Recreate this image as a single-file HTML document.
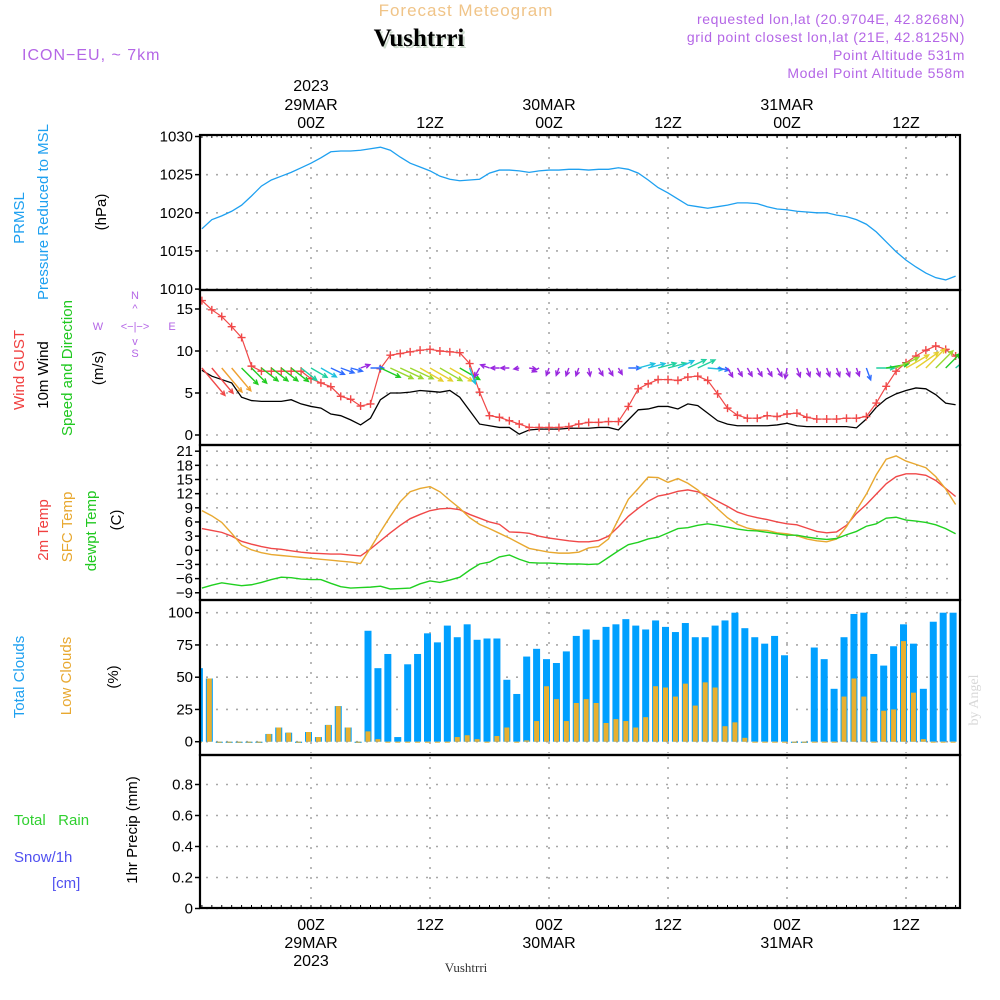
<!DOCTYPE html>
<html><head><meta charset="utf-8"><style>
html,body{margin:0;padding:0;background:#fff;}
svg{display:block;font-family:"Liberation Sans",sans-serif;}
</style></head><body>
<svg id="chart" width="1000" height="1000" viewBox="0 0 1000 1000">
<text x="466" y="16" font-size="17" fill="#f0c488" text-anchor="middle" letter-spacing="1">Forecast Meteogram</text>
<text x="421" y="48" font-size="25" font-weight="bold" font-family="Liberation Serif, serif" fill="#cfdccf" text-anchor="middle">Vushtrri</text>
<text x="419" y="46" font-size="25" font-weight="bold" font-family="Liberation Serif, serif" fill="#000" text-anchor="middle">Vushtrri</text>
<text x="22" y="60" font-size="16" fill="#b466e6" letter-spacing="1">ICON−EU, ~ 7km</text>
<g font-size="14" fill="#b466e6" text-anchor="end" letter-spacing="0.6">
<text x="965" y="24">requested lon,lat (20.9704E, 42.8268N)</text>
<text x="965" y="42">grid point closest lon,lat (21E, 42.8125N)</text>
<text x="965" y="60">Point Altitude 531m</text>
<text x="965" y="78">Model Point Altitude 558m</text>
</g>
<text x="978" y="700" font-size="14" fill="#d8d8d8" font-family="Liberation Serif, serif" transform="rotate(-90 978 700)" text-anchor="middle">by Angel</text>
<g id="left-labels" font-size="15" text-anchor="middle">
<text transform="translate(24,218) rotate(-90)" fill="#1ea0f0">PRMSL</text>
<text transform="translate(48,212) rotate(-90)" fill="#1ea0f0">Pressure Reduced to MSL</text>
<text transform="translate(106,212) rotate(-90)" fill="#000">(hPa)</text>
<text transform="translate(24,370) rotate(-90)" fill="#f04040">Wind GUST</text>
<text transform="translate(48,375) rotate(-90)" fill="#000">10m Wind</text>
<text transform="translate(72,368) rotate(-90)" fill="#20c820">Speed and Direction</text>
<text transform="translate(103,368) rotate(-90)" fill="#000">(m/s)</text>
<text transform="translate(48,530) rotate(-90)" fill="#f04040">2m Temp</text>
<text transform="translate(72,527) rotate(-90)" fill="#e8a830">SFC Temp</text>
<text transform="translate(96,531) rotate(-90)" fill="#20c820">dewpt Temp</text>
<text transform="translate(121,520) rotate(-90)" fill="#000">(C)</text>
<text transform="translate(24,677) rotate(-90)" fill="#1ea0f0">Total Clouds</text>
<text transform="translate(71,676) rotate(-90)" fill="#e8a830">Low Clouds</text>
<text transform="translate(118,677) rotate(-90)" fill="#000">(%)</text>
<text transform="translate(137,830) rotate(-90)" fill="#000">1hr Precip (mm)</text>
</g>
<g font-size="15">
<text x="14" y="825" fill="#30d030" xml:space="preserve">Total   Rain</text>
<text x="14" y="862" fill="#5050f0">Snow/1h</text>
<text x="52" y="888" fill="#5050f0">[cm]</text>
</g>
<g font-size="11" fill="#b466e6" text-anchor="middle">
<text x="135" y="299">N</text>
<text x="135" y="312">^</text>
<text x="135" y="330">&lt;−|−&gt;</text>
<text x="98" y="330">W</text>
<text x="172" y="330">E</text>
<text x="135" y="345">v</text>
<text x="135" y="357">S</text>
</g>
</svg>
<script>
const hours = [];
for (let h = -11; h <= 65; h++) hours.push(h);
const pressure = [1017.9,1019.1,1019.6,1020.2,1021.0,1022.2,1023.5,1024.3,1024.8,1025.3,1025.9,1026.5,1027.2,1028.0,1028.1,1028.1,1028.2,1028.4,1028.6,1028.2,1027.3,1026.5,1026.0,1025.5,1024.8,1024.4,1024.2,1024.3,1024.4,1025.2,1025.6,1025.6,1025.5,1025.3,1025.5,1025.6,1025.6,1025.7,1025.7,1025.6,1025.7,1025.7,1025.9,1025.7,1025.2,1024.3,1023.3,1022.6,1021.8,1021.0,1020.8,1020.6,1020.8,1021.0,1021.3,1021.3,1021.2,1020.8,1020.5,1020.4,1020.2,1020.1,1020.0,1020.0,1019.7,1019.5,1019.1,1018.5,1017.5,1016.2,1014.9,1013.8,1012.9,1012.1,1011.5,1011.2,1011.7];
const windGust = [16.0,14.9,14.1,12.9,11.6,8.2,7.6,7.6,7.6,7.6,7.6,6.7,6.2,5.75,4.6,4.25,3.45,3.7,7.9,9.5,9.7,9.9,10.1,10.2,10.0,9.9,9.8,8.5,5.1,2.3,2.1,1.7,1.3,0.9,0.9,0.9,0.9,1.0,1.3,1.5,1.5,1.6,1.6,3.4,5.5,6.1,6.6,6.6,6.5,6.9,7.0,6.5,4.9,3.2,2.35,2.0,2.0,2.3,2.2,2.5,2.6,2.1,1.9,1.9,1.9,2.0,2.0,2.2,3.8,5.8,7.6,8.6,9.4,10.1,10.6,10.2,9.4];
const windSpeed = [7.7,7.0,6.6,6.2,4.5,4.1,4.0,4.0,4.0,4.2,3.7,3.4,3.2,2.5,2.3,1.8,1.2,2.0,4.2,5.0,5.0,5.1,5.3,5.2,5.1,5.3,4.5,2.9,1.3,1.1,0.9,0.9,0.1,0.6,0.7,0.7,0.7,0.8,0.8,0.8,0.9,0.9,0.6,1.8,3.0,3.1,3.4,3.4,3.1,3.7,3.5,2.6,1.7,1.3,1.1,1.1,1.1,1.1,1.2,1.4,1.1,1.0,1.0,1.0,1.0,1.0,0.85,1.9,3.3,4.3,4.9,5.3,5.6,5.5,4.8,3.8,3.6];
const windDir = [50,50,50,50,45,45,38,38,38,38,38,30,30,25,20,15,-20,0,25,25,25,25,30,30,30,30,30,70,120,200,180,180,170,10,150,110,110,110,110,80,60,60,60,0,-15,-15,-15,-15,-25,-25,-25,5,10,60,60,60,60,60,60,100,70,70,70,70,70,70,70,70,0,-10,-25,-30,-35,-45,-45,-45,-40];
const temp2m = [4.6,4.2,3.8,3.0,1.9,1.3,0.8,0.4,0.2,-0.1,-0.4,-0.6,-0.7,-0.8,-0.8,-1.0,-1.2,0.3,2.0,3.7,5.3,6.7,7.6,8.4,8.8,8.9,8.6,7.6,6.8,6.0,5.5,3.9,3.8,3.6,3.0,2.6,2.3,2.0,1.8,1.8,2.1,3.0,5.0,7.2,8.9,10.4,11.5,11.9,12.5,12.8,12.4,11.5,10.4,9.3,8.1,7.4,6.9,6.5,6.0,5.6,5.4,4.7,4.0,3.7,3.9,5.3,7.8,9.7,11.9,14.1,15.6,16.2,16.2,15.9,14.8,13.1,11.4];
const tempSfc = [8.4,7.3,5.9,3.6,1.1,0.1,-0.5,-0.9,-1.1,-1.3,-1.5,-1.7,-1.9,-2.1,-2.3,-2.5,-2.8,0.5,3.9,7.2,10.3,12.4,13.1,13.5,12.4,10.6,8.9,6.9,5.5,4.6,3.6,2.6,1.5,0.4,0.0,-0.4,-0.6,-0.6,-0.4,0.5,0.8,2.4,6.6,10.8,13.1,15.5,15.4,14.4,15.2,14.2,12.8,10.8,8.8,6.9,5.5,4.7,4.3,4.2,3.7,3.5,3.1,2.4,2.0,1.8,2.4,5.0,8.5,11.9,16.0,19.3,20.0,18.9,18.2,17.5,15.6,13.0,9.7];
const dewpt = [-8.0,-7.4,-6.9,-7.2,-7.5,-7.3,-6.8,-6.2,-5.7,-5.8,-6.1,-6.2,-6.2,-7.0,-7.7,-8.0,-7.9,-7.8,-7.6,-8.2,-8.1,-8.0,-7.1,-6.5,-6.8,-6.3,-5.7,-4.2,-2.9,-2.5,-1.4,-1.0,-1.9,-2.6,-2.7,-2.7,-2.8,-2.9,-2.9,-3.0,-2.9,-1.5,-0.1,1.2,1.7,2.4,2.8,3.7,4.6,4.8,5.3,5.6,5.3,4.9,4.5,4.2,4.1,3.8,3.5,3.2,3.2,2.8,2.5,2.3,2.5,3.3,4.0,5.1,5.6,6.8,7.0,6.4,6.2,5.9,5.4,4.6,3.5];
const totalClouds = [57,49,0,0,0,0,0,6,11,7,0,7.5,3.6,13,27.6,11,0,86,57,68,3.6,60,68,84,77,90,81,91,79,80,80,48,37,66,72,64,61,70,82,87,79,89,91,95,90,87,94,89,85,92,81,81,90,94,100,88,81,76,82,67,0,0,73,64,41,81,99,100,68,59,74,91,76,41,93,100,100];
const lowClouds = [0,49,0,0,0,0,0,6,11,7,0,7.5,3.6,13,27.6,11,0,8,2,0,0,0,0,0,0,0,3.6,5,2,0,4.4,11,0,1,16,43,33,16,30,33,30,14.5,17.5,16,11,19,43,42,35,45,28,46,42,12,15,3,0,0,0,0,0,0,0,0,0,35,49,35,0,24,25,78,38,2,0,0,0];
const precip = hours.map(() => 0);
const pressureTicks = [1010,1015,1020,1025,1030];
const windTicks = [0,5,10,15];
const tempTicks = [-9,-6,-3,0,3,6,9,12,15,18,21];
const cloudTicks = [0,25,50,75,100];
const precipTicks = [0,0.2,0.4,0.6,0.8];
const timeTicks = [0,12,24,36,48,60];
const timeLabels = ['00Z','12Z','00Z','12Z','00Z','12Z'];
const dateLabels = {0:'29MAR',24:'30MAR',48:'31MAR'};

const NS = 'http://www.w3.org/2000/svg';
const svg = document.getElementById('chart');
const X0 = 200, X1 = 960;
const xOf = t => 311 + t * 9.917;
const yP = v => 136.5 + (1030 - v) * 7.63;
const yW = v => 435 - v * 8.4;
const yT = v => 550.3 - v * 4.72;
const yC = v => 741.7 - v * 1.29;
const yR = v => 908.5 - v * 155;
function el(tag, attrs, parent) {
  const e = document.createElementNS(NS, tag);
  for (const k in attrs) e.setAttribute(k, attrs[k]);
  (parent || svg).appendChild(e);
  return e;
}
const defs = el('defs', {});
const cp = el('clipPath', {id: 'plotclip'}, defs);
el('rect', {x: X0, y: 130, width: X1 - X0, height: 785}, cp);

const panels = [
  {name: 'pressure', top: 135, bot: 290, ticks: pressureTicks, y: yP, fmt: v => v},
  {name: 'wind', top: 290, bot: 445, ticks: windTicks, y: yW, fmt: v => v},
  {name: 'temp', top: 445, bot: 600, ticks: tempTicks, y: yT, fmt: v => v < 0 ? '−' + (-v) : v},
  {name: 'cloud', top: 600, bot: 755, ticks: cloudTicks, y: yC, fmt: v => v},
  {name: 'precip', top: 755, bot: 908, ticks: precipTicks, y: yR, fmt: v => v}
];
const grid = el('g', {stroke: '#a8a8a8', 'stroke-width': 1.6, 'stroke-dasharray': '2,8'});


const axes = el('g', {'font-size': 15, fill: '#000', 'text-anchor': 'end'});


panels.forEach(p => {
  timeTicks.forEach(t => {
    const l = el('line', {x1: xOf(t), x2: xOf(t), y1: p.top + 2, y2: p.bot - 2}, grid);
    
    
  });
  p.ticks.forEach(v => {
    const y = p.y(v);
    const g = el('line', {x1: X0 + 6, x2: X1 - 4, y1: y, y2: y}, grid);
    
    
    const tk = el('line', {x1: X0 - 5, x2: X0, y1: y, y2: y, stroke: '#000', 'stroke-width': 1.5}, axes);
    
    
    const tx = el('text', {x: X0 - 7, y: y + 5}, axes);
    tx.textContent = p.fmt(v);
    
    
  });
});

const pl = el('polyline', {points: hours.map((t, i) => xOf(t) + ',' + yP(pressure[i])).join(' '), fill: 'none', stroke: '#1ea0f0', 'stroke-width': 1.3, 'clip-path': 'url(#plotclip)'});



const ws = el('polyline', {points: hours.map((t, i) => xOf(t) + ',' + yW(windSpeed[i])).join(' '), fill: 'none', stroke: '#000', 'stroke-width': 1.3, 'clip-path': 'url(#plotclip)'});



const gl = el('polyline', {points: hours.map((t, i) => xOf(t) + ',' + yW(windGust[i])).join(' '), fill: 'none', stroke: '#f04848', 'stroke-width': 1.2, 'clip-path': 'url(#plotclip)'});


const gm = el('g', {stroke: '#f04848', 'stroke-width': 1.4, 'clip-path': 'url(#plotclip)'});


hours.forEach((t, i) => {
  const x = xOf(t), y = yW(windGust[i]);
  const m = el('path', {d: `M${x-4},${y}H${x+4}M${x},${y-4}V${y+4}`}, gm);
  
  
});

function speedColor(s) {
  if (s < 1.5) return '#9a28e0';
  if (s < 2.6) return '#2f6cff';
  if (s < 3.3) return '#20c0e0';
  if (s < 3.8) return '#20d0a0';
  if (s < 4.6) return '#20cc20';
  if (s < 5.15) return '#9ad830';
  if (s < 6) return '#e6d030';
  if (s < 7) return '#f0a030';
  return '#f04848';
}
const wa = el('g', {'stroke-width': 1.4, fill: 'none', 'clip-path': 'url(#plotclip)'});


hours.forEach((t, i) => {
  const s = windSpeed[i];
  const L = 5 + s * 4;
  const a = windDir[i] * Math.PI / 180;
  const x0 = xOf(t), y0 = 368;
  const x1 = x0 + L * Math.cos(a), y1 = y0 + L * Math.sin(a);
  const h = 5, b = 0.45;
  const hx1 = x1 - h * Math.cos(a - b), hy1 = y1 - h * Math.sin(a - b);
  const hx2 = x1 - h * Math.cos(a + b), hy2 = y1 - h * Math.sin(a + b);
  const ar = el('path', {d: `M${x0},${y0}L${x1},${y1}M${hx1},${hy1}L${x1},${y1}L${hx2},${hy2}`, stroke: speedColor(s)}, wa);
  
  
});

[[temp2m, '#f04848', 'temp-2m-line'], [tempSfc, '#e8a830', 'temp-sfc-line'], [dewpt, '#20d020', 'dewpoint-line']].forEach(([arr, c, n]) => {
  const l = el('polyline', {points: hours.map((t, i) => xOf(t) + ',' + yT(arr[i])).join(' '), fill: 'none', stroke: c, 'stroke-width': 1.4, 'clip-path': 'url(#plotclip)'});
  
  
});

const cb = el('g', {'clip-path': 'url(#plotclip)'});


hours.forEach((t, i) => {
  const x = xOf(t) - 6;
  const y0 = yC(0);
  const tv = totalClouds[i], lv = lowClouds[i];
  const b1 = el('rect', {x: x, y: yC(tv), width: 7, height: Math.max(1.2, y0 - yC(tv)), fill: '#00a0ff'}, cb);
  
  
  const b2 = el('rect', {x: x + 1, y: yC(lv), width: 5, height: Math.max(1, y0 - yC(lv)), fill: '#e8b030'}, cb);
  
  
});

const pb = el('g', {'clip-path': 'url(#plotclip)'});


hours.forEach((t, i) => {
  if (precip[i] > 0) {
    const r = el('rect', {x: xOf(t) - 6, y: yR(precip[i]), width: 7, height: yR(0) - yR(precip[i]), fill: '#30d030'}, pb);
    
    
  }
});

const fr = el('g', {stroke: '#000', fill: 'none'});


panels.forEach(p => {
  const r = el('rect', {x: X0, y: p.top, width: X1 - X0, height: p.bot - p.top, 'stroke-width': 2.2}, fr);
  
  
});
for (let t = -11; t <= 65; t++) {
  const x = xOf(t);
  [135, 908].forEach(y => {
    const tk = el('line', {x1: x, x2: x, y1: y === 135 ? y : y - 3, y2: y === 135 ? y + 3 : y, 'stroke-width': 1}, fr);
    
    
  });
}

const tl = el('g', {'font-size': 16, fill: '#000', 'text-anchor': 'middle'});


timeTicks.forEach((t, i) => {
  const x = xOf(t);
  const a = el('text', {x: x, y: 128}, tl);
  a.textContent = timeLabels[i];
  
  
  const b = el('text', {x: x, y: 930}, tl);
  b.textContent = timeLabels[i];
  
  
  if (dateLabels[t]) {
    const c = el('text', {x: x, y: 110}, tl);
    c.textContent = dateLabels[t];
    
    
    const d = el('text', {x: x, y: 948}, tl);
    d.textContent = dateLabels[t];
    
    
  }
});
const y1 = el('text', {x: xOf(0), y: 91}, tl);
y1.textContent = '2023';


const y2 = el('text', {x: xOf(0), y: 966}, tl);
y2.textContent = '2023';


const loc = el('text', {x: 466, y: 972, 'font-size': 13, 'font-family': 'Liberation Serif, serif', fill: '#333', 'text-anchor': 'middle'});
loc.textContent = 'Vushtrri';


</script>
</body></html>
